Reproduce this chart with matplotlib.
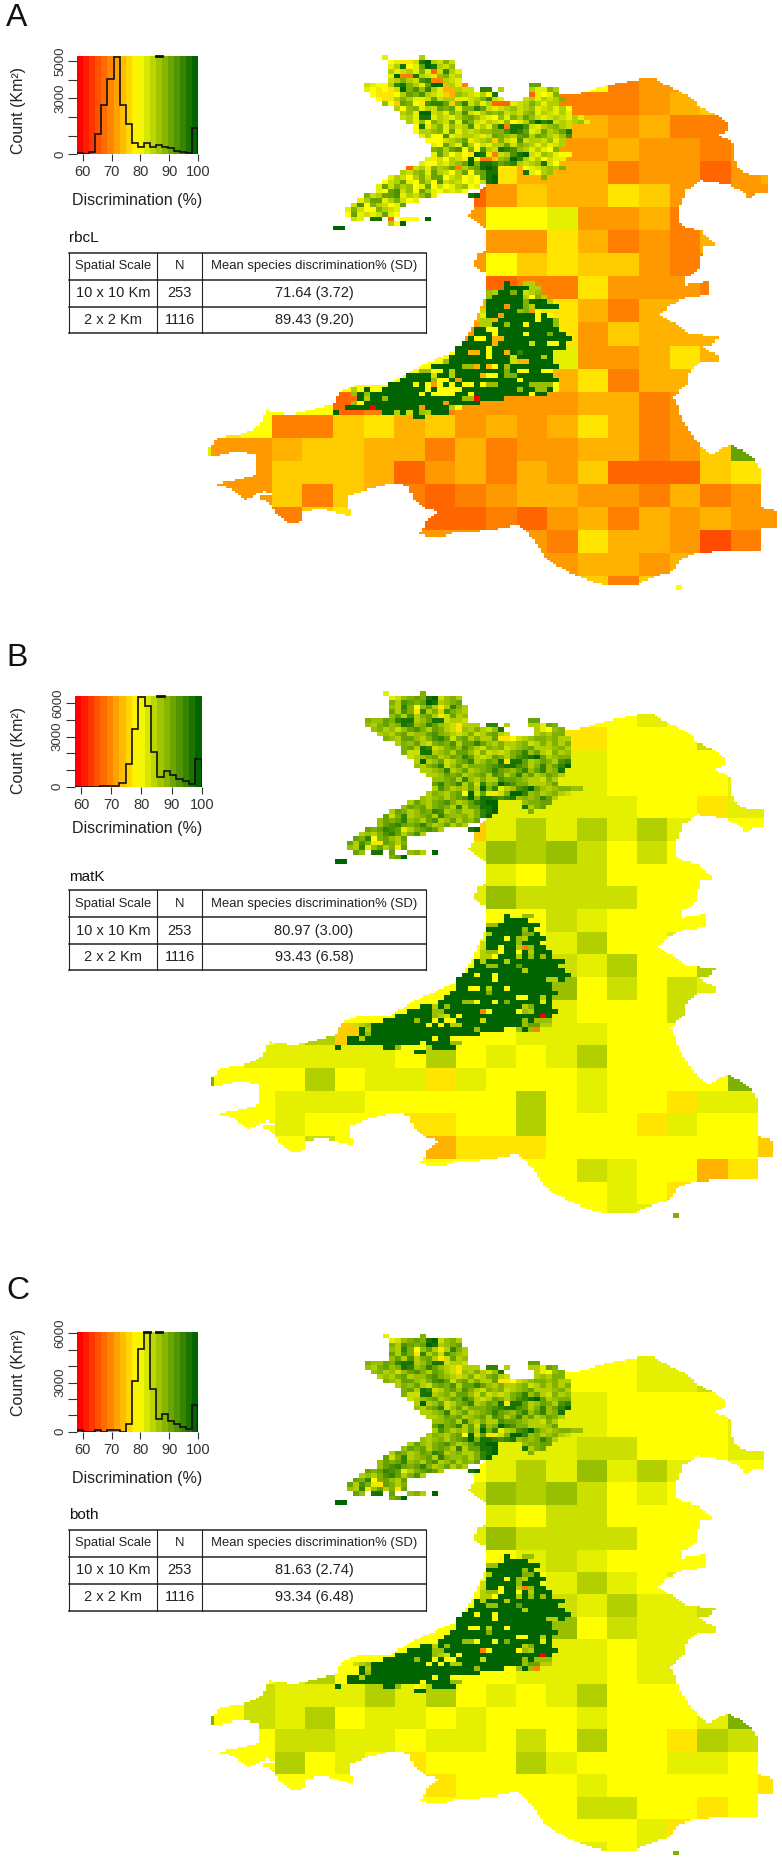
import numpy as np
from matplotlib import pyplot as plt
from matplotlib.colors import LinearSegmentedColormap
from matplotlib.path import Path

plt.rcParams["font.family"] = ["Liberation Sans", "DejaVu Sans"]

W, H = 782, 1859

# histogram counts, 20 bins from 58 to 100 (read against the y ticks)
hist_a = [90, 0, 140, 1070, 2640, 4020, 5200, 2640, 1620, 590,
          410, 625, 410, 480, 375, 320, 200, 125, 50, 1390]
hist_b = [10, 10, 10, 10, 60, 20, 60, 240, 1360, 3460,
          5400, 4840, 2100, 600, 960, 700, 440, 340, 140, 1640]
hist_c = [100, 0, 0, 100, 0, 100, 100, 0, 500, 3100,
          5020, 6100, 2620, 770, 1050, 670, 470, 300, 140, 1630]

x_ticks = [60, 70, 80, 90, 100]
x_tick_labels = ["60", "70", "80", "90", "100"]
y_ticks_a = [0, 1000, 2000, 3000, 4000, 5000]
y_labels_a = ["0", "", "", "3000", "", "5000"]
y_ticks_b = [0, 1000, 2000, 3000, 4000, 5000]
y_labels_b = ["0", "", "", "3000", "", "6000"]
y_ticks_c = [0, 1000, 2000, 3000, 4000, 5000, 6000]
y_labels_c = ["0", "", "", "3000", "", "", "6000"]

table_head = ["Spatial Scale", "N", "Mean species discrimination% (SD)"]
scales = ["10 x 10 Km", "2 x 2 Km"]
cell_counts = ["253", "1116"]
means_a = ["71.64 (3.72)", "89.43 (9.20)"]
means_b = ["80.97 (3.00)", "93.43 (6.58)"]
means_c = ["81.63 (2.74)", "93.34 (6.48)"]

coast_u = [935, 975, 1020, 1075, 1130, 1186, 1225, 1268, 1320, 1350, 1390, 1420, 1420, 1395, 1440,
           1435, 1450, 1480, 1528, 1528, 1500, 1480, 1460, 1420, 1350, 1310, 1290, 1285, 1310, 1350,
           1375, 1395, 1360, 1350, 1350, 1310, 1300, 1340, 1370, 1370, 1300, 1265, 1240, 1270, 1320,
           1395, 1390, 1355, 1395, 1395, 1350, 1320, 1310, 1290, 1275, 1290, 1310, 1350, 1380, 1430,
           1495, 1510, 1510, 1515, 1552, 1552, 1510, 1510, 1430, 1350, 1300, 1270, 1230, 1180, 1110,
           1060, 1000, 940, 910, 880, 855, 770, 690, 640, 590, 610, 640, 600, 570, 565,
           520, 440, 400, 405, 330, 280, 270, 240, 200, 190, 150, 205, 170, 120, 90,
           42, 90, 150, 155, 100, 40, 22, 22, 50, 110, 150, 180, 250, 320, 360,
           375, 430, 510, 590, 690, 735, 770, 770, 770, 745, 735, 750, 770, 770, 745,
           722, 740, 735, 770, 770, 935]
coast_v = [175, 150, 153, 135, 122, 110, 110, 133, 160, 190, 210, 235, 255, 268, 290,
           320, 360, 378, 380, 430, 430, 450, 425, 405, 395, 420, 470, 510, 525, 535,
           560, 575, 580, 610, 640, 665, 690, 680, 678, 715, 725, 745, 770, 790, 825,
           830, 850, 860, 885, 900, 905, 925, 965, 985, 1000, 1040, 1085, 1140, 1160, 1130,
           1175, 1200, 1240, 1310, 1320, 1365, 1368, 1430, 1432, 1435, 1450, 1490, 1500, 1525, 1530,
           1520, 1495, 1460, 1420, 1375, 1360, 1375, 1380, 1395, 1385, 1345, 1320, 1310, 1285, 1250,
           1240, 1262, 1280, 1335, 1315, 1320, 1350, 1352, 1325, 1300, 1280, 1275, 1265, 1290, 1260,
           1245, 1235, 1220, 1165, 1150, 1168, 1168, 1140, 1115, 1105, 1090, 1040, 1050, 1030, 1020,
           985, 965, 965, 915, 870, 800, 720, 690, 655, 640, 625, 600, 590, 530, 510,
           490, 470, 445, 405, 340, 340]

# letters a..u are the 21 colour levels: a red, k yellow, u dark green
coarse_a = ["....................", "..............fggg..", "............fffghiii", "............hhghffff",
            "............gghggfgg", "..........jhhhfggegh", ".........egihhjigggg", ".........gkklgghffff",
            ".........gggjhfgfhhh", ".........gkijiigffff", ".........geffjgggfgg", ".........hffjhfhhkkk",
            ".........gffjgihhhhh", ".........hfflgghjhhh", ".........iffhjfhhhhh", "...kkefffgggghhfgggg",
            ".jkffijhighghjhfgggg", "lgghiihhfhfgghhfgiqi", "gggiiihegh" + "fhgieeeijj", "gggifihfef" + "ghhggfhfgg",
            "...fijjfee" + "feghfhghgg", ".......ggg" + "ggfjhhgdff", "..........g" + "gghhghhhh", "............jifii..."]
coarse_b = ["....................", "..............klkk..", "............jjkkkmkk", "............llkkkkkk",
            "............llkkkkll", "..........lllllkkjll", ".........ilnlnlnlkkk", ".........lonomkmkkkk",
            ".........llkmmkkkkkk", ".........lommmmkkkkk", ".........kkkmlkkkkkk", ".........kkklnkklkkk",
            ".........kkkmlnkknkk", ".........kkkokmkmlkk", ".........kkklkkkmlkk", "...lnilkkk" + "klllkkkkkk",
            ".klllllknk" + "lklnkkkkkk", "pkkknklljl" + "kkklkkkkpk", "kkklllkkkk" + "knklkkjlll", "kkklkkkjjk" + "knkkkjlkkk",
            "...kmkkkhj" + "jjkkkkkkki", ".......kkk" + "kkkmlkkhjj", ".........." + "kkkklkjkkk", "............kkllk..."]
coarse_c = ["....................", "..............klll..", "............kkkllmkk", "............llkkkkkk",
            "............llkkkkll", "..........lllmmkkkll", ".........klnlolnlkkk", ".........lonomklkkkk",
            ".........llkmmkkkkkk", ".........lommmmkkkkk", ".........kklmlkkkkkk", ".........kkklnlklkkk",
            ".........kkkmlnllmkk", ".........kkkokmlllkk", ".........kkkllklllkk", "...lnklkkk" + "klllkllkkk",
            ".kmlllnlnk" + "lklnkkkkkk", "pkmlnkllkl" + "kkklkkklpk", "kkkmmllkll" + "kmknkkjnml", "kkknklkjkk" + "knlkkkllkk",
            "...kkkkkjk" + "kkklkkkkkj", ".......kkk" + "kkkmmkkjkk", ".........." + "kkkkkljkkk", "............klklk..."]

# 2 km cells of the north block, first row 1, first column 26
north_a = ["", "       l     n", "        kljjmtunmpm", "        lntklqutnmo", "        nlmnlplemsnl",
           "        lufftnmlopmn", "        mnpnmrsffnml", "    mlkknstpnlquuhnlf          qq",
           "    lklkjmuprosnlhhnmm ss n    nllpn", "     kjjjknqprnmlihonmlnkt     elklp",
           "      kjlnpnllmqmnnllmnpsml   mnlnmnp", "       okiqpkjrssqipsmolneeelmnpnlnn",
           "         nkoplnmqpqlppsqmlmnomnolmnlnk", "          noluumnlpnrmlnpopmnmoplnmlnl",
           "          mnlttlnmlnpqomlkolpnqomlmnmlnl", "           nlokpnmqlrpmlnmloklnrustmnmnol",
           "            ktlnplomnrlnlptfttrmlnopnm", "            knnoplqlnmnoopprtsqlmqnoqt",
           "             lnkkrlmnnmlmqponqrnqpnmor", "              kkkmnoqlmnoipmlrmnnmoln",
           "               lkqnlrnkmlnnqmponlnlmn", "               pqnqrkpkrnmtsronlnlkp",
           "               lqnkmkjutlfmnrtumlonlkk", "              ljmknmjukffiopusnlnkmll",
           "             lkkmlnoqupttsqrsnmnotmk", "           emnlpnoqfnpqtut    klmnonp",
           "          nmoplqnmknqkpqtt    tlkno", "        lnmknpmqqkmnklkqtu       p",
           "       kmnqlkpnkrmnmklkmtu", "      lqmpnoklqkmklnokl", "      lkqrmokqnlkmlmk",
           "    pmnqqrlnmoql     tu", "   lnqqlnpmkl", "  mrkpnmklq", " lpmkkpnml", " kqlmlmqlk",
           "  ml tt e kkk u", "        nku", "u"]
north_bc = ["", "       l     p", "        lmopqptumopn", "        pnrqpqutnopq", "        onspkoqnjnspn",
            "        qnrpjsnpmrpon", "        oqnrnpqnjmqno", "    pooqpsttnoqttmnnm          qq",
            "    onpqoptsopsqonmjnnn ss n   nnlqp", "     opnomoqrpnqpnmjonpnmot     nlkop",
            "      nonpqnooqrponmnpmnpqnm    nonpp", "       ponqqonprsqmpqnpnnqjjkmnoppopnn",
            "         npoqnmpqprnqqsqonpnnopmnpnpnp", "          pqntsmnpqorpnmpopmnopqnnnopn",
            "          pmmttnopnqqompmnmnpqsoqnmpno", "           mnopqnoqpsqnmnqpnprstuqnopp",
            "            nunoqmnpqsnoqptjttqnoqpnrs", "            onpqsmoqnpppqrsttrqnpsoqsu",
            "             nnopsnoqnopqsqpoqsoqsopt", "              nnoqpqnopqnrqnpsoqnoqpn",
            "               oopqnsonpnnrqqponnmpn", "               qspqsnqmsopusrppnnnoq",
            "               nrpnonqnupslnorsuqonoppoo", "              nponpqkumqljmpuusopnopnm",
            "             onopnpqrupttsrstopopsqn", "           nqonpqrpnoqstuu    oppqq",
            "          oqpqnpqpnsnqqttu    tnpq", "        nqpnoqpsrnopnnpstu     p",
            "       qmpsnopqnspoopnpsu", "      oqpqsopnqrnoqnpoq", "      oqrsqpqspnoqnpn",
            "    qpqsrqlnpqrqn    tu", "   nonprsqnprn", "  qpskpqonq", " qnrpljqpnp", " onsloqnpjq",
            "  qo tt q  opn u", "        pqu", "u"]

# 2 km cells of the mid-west block, first row 51, first column 25: (skip, cells)
mid_a = [(28, "u  nn"), (28, "uuuunn"), (25, "onuupumno"), (25, "ouuuuunkpn"), (25, "uuuuuupuuun"),
         (25, "uuuguupnuuuu"), (24, "muuuuuopgkl"), (24, "luuguuuuukuk"), (24, "nnhuuuuuukuuo"),
         (24, "nnuuouukuuuuo"), (23, "uukkuuuuuuuuuu"), (23, "uuukuuuukuuupuu"), (22, "ukkuhhuuuuuuuuuuu"),
         (21, "uuuuuhuuuuumuukku"), (20, "uuuuukuuuuuuuuuuuu"), (20, "uuhhukuuhusuuuuu"),
         (19, "uuuuuukuuumuuuunu"), (18, "ouuuuuuuuuumhhuuuu"), (16, "uuuuuoohuhkuouuuuuuuu"),
         (14, "ookkunuuuuuuuupukkuukk"), (12, "uuuumuunuuuuhkkuppuuuuuu"), (11, "uuuuuokkuguuuuuuuuukuuuuuu"),
         (9, "uuuukukgkukukkukoouuuuuooook"), (3, "nkukkuuuuuuukukkkkuuuuuuuuuouuoouk"),
         (3, "ououuuuuuuukukkkkuukuuuuuuuuukuu"), (4, "unuuouuuuuuuuuuuuooauuuu"),
         (3, "okuuuuuuuuuuuuuguuuuu"), (2, "uuuuauuuuuuuguuuunk"), (0, "u       uunumuonuuu"), (13, "uu")]
mid_bc = [(28, "u  oo"), (28, "uuuu"), (25, "oouuuuuuu"), (25, "uuuuuuou"), (25, "nuuuuuppu"),
          (25, "uuukuonuuu"), (24, "muuuuuouuu"), (24, "muukuunfouu"), (24, "nookuukunuuu"),
          (24, "nnkuuunuouou"), (23, "unuuunuuuuuuuuu"), (23, "uuoouuuquuuuuu"), (22, "uuuuuuuuunuuuuuu"),
          (21, "uukuukuuuuuuuuuuuu"), (20, "uuuuuukuuuuuuuunnu"), (20, "uuuuuuuuuuuuuuuu"),
          (20, "uukkunuukuuuuuuu"), (19, "uuuuuupuuuuuuuuuuu"), (18, "uuuuuuuuuuuukkuunu"),
          (17, "uuuuookuukupuuuuulu"), (14, "uunuouuuuuuuuuuuunpuuu"), (12, "uuuuoouuuuuufkuuuukonuuuu"),
          (10, "uuuuuuonmukuuuuuuuuuuuuuau"), (8, "uuuuuouukukkuuuumuuuuuuouooo"),
          (3, "mnouuuuuuuuukukunnuuuuuuuuuuoqqnn"), (4, "unuuuuuuuuuuuuuuuuuouuuu  ouof"),
          (4, "uouuuuuuuuuuuuuuuuuu"), (2, "uunuuuuuuuuuuukuu"), (2, "uuuuuuuuuuuukuuuuoo"),
          (0, "u       uuo  k  uuuu"), (13, "uu")]

# single cells away from the blocks: (row, column, level)
specks_a = [(117, 81, "k"), (39, 25, "u")]
specks_bc = [(117, 81, "p"), (39, 25, "u")]

ramp = LinearSegmentedColormap.from_list("disc", ["red", "yellow", "darkgreen"], N=21)
stripes = LinearSegmentedColormap.from_list("stripes", ["red", "yellow", "darkgreen"], N=20)


def level(ch):
    return ord(ch) - ord("a")


def px_axes(fig, x, y, w, h):
    return fig.add_axes([x / W, 1 - (y + h) / H, w / W, h / H])


def build_grid(coarse, north, mid, specks):
    # map held at 1 km, so the 10 km coast can be stepped as in the original
    levels = np.array([[level("k") if c == "." else level(c) for c in row] for row in coarse], float)
    levels = np.kron(levels, np.ones((10, 10)))
    cols, rows = np.meshgrid(np.arange(200) + 0.5, np.arange(240) + 0.5)
    coast = Path(np.column_stack([6.6 + np.array(coast_u) / 8.244, -2.78 + np.array(coast_v) / 6.451]))
    inside = coast.contains_points(np.column_stack([cols.ravel(), rows.ravel()])).reshape(rows.shape)
    grid = np.where(inside, levels, np.nan)
    for i, row in enumerate(north):
        for j, ch in enumerate(row):
            if ch != " ":
                grid[2 * (i + 1):2 * (i + 1) + 2, 2 * (j + 26):2 * (j + 26) + 2] = level(ch)
    for i, (skip, row) in enumerate(mid):
        for j, ch in enumerate(row):
            if ch != " ":
                grid[2 * (i + 51):2 * (i + 51) + 2, 2 * (j + skip + 25):2 * (j + skip + 25) + 2] = level(ch)
    for r, c, ch in specks:
        grid[2 * r:2 * r + 2, 2 * c:2 * c + 2] = level(ch)
    return grid


def draw_map(fig, grid, box):
    ax = px_axes(fig, *box)
    ax.imshow(grid, cmap=ramp, vmin=-0.5, vmax=20.5, extent=(0, 200, 240, 0),
              aspect="auto", interpolation="nearest")
    ax.axis("off")


def draw_hist(fig, counts, box, x_left, y_top, y_ticks, y_labels, top_bins):
    ax = px_axes(fig, *box)
    edges = np.linspace(x_left, 100, 21)
    ax.pcolormesh(edges, [0, y_top], [np.arange(20)], cmap=stripes, vmin=0, vmax=19)
    ax.stairs(counts, edges, color="#111111", lw=1.2)
    for b in top_bins:
        ax.plot([edges[b], edges[b + 1]], [y_top, y_top], color="#111111", lw=2, clip_on=False)
    ax.set_xlim(x_left, 100)
    ax.set_ylim(0, y_top)
    for s in ax.spines.values():
        s.set_visible(False)
    ax.set_xticks(x_ticks, x_tick_labels)
    ax.set_yticks(y_ticks, y_labels)
    ax.tick_params(axis="x", length=5, width=0.8, color="#333333", labelcolor="#333333", labelsize=10.5, pad=3)
    ax.tick_params(axis="y", length=6.5, width=0.8, color="#333333", labelcolor="#333333", labelsize=9.5, pad=1.5)
    for t in ax.get_yticklabels():
        t.set_rotation(90)
        t.set_va("center")


def draw_table(ov, label, label_y, lines_y, means):
    ov.text(69, label_y, label, fontsize=11, color="#111111", va="center", ha="left")
    for y in lines_y:
        ov.plot([69, 426], [y, y], color="#222222", lw=1.1)
    for x in [69, 156.7, 202.3, 425.7]:
        ov.plot([x, x], [lines_y[0], lines_y[-1]], color="#222222", lw=0.8)
    rows = [table_head, [scales[0], cell_counts[0], means[0]], [scales[1], cell_counts[1], means[1]]]
    for i, row in enumerate(rows):
        y = (lines_y[i] + lines_y[i + 1]) / 2
        size = 9.4 if i == 0 else 10.5
        for x, s in zip([113, 179.5, 314], row):
            ov.text(x, y, s, fontsize=size, color="#222222", ha="center", va="center")


fig = plt.figure(figsize=(W / 100, H / 100), dpi=100)

draw_map(fig, build_grid(coarse_a, north_a, mid_a, specks_a), (179.8, 46.4, 612, 553))
draw_map(fig, build_grid(coarse_b, north_bc, mid_bc, specks_bc), (183.8, 682.5, 604, 544.3))
draw_map(fig, build_grid(coarse_c, north_bc, mid_bc, specks_bc), (183.8, 1325.4, 604, 539))

draw_hist(fig, hist_a, (77.3, 56, 120.7, 98.3), 58.1, 5270, y_ticks_a, y_labels_a, [13])
draw_hist(fig, hist_b, (75, 695.7, 126.7, 91), 58, 5460, y_ticks_b, y_labels_b, [13])
draw_hist(fig, hist_c, (77.3, 1331.7, 120.7, 100), 58.1, 6100, y_ticks_c, y_labels_c, [11, 13])

ov = fig.add_axes([0, 0, 1, 1])
ov.set_xlim(0, W)
ov.set_ylim(H, 0)
ov.axis("off")
ov.patch.set_alpha(0)

for letter, y in zip("ABC", [18, 658, 1291]):
    ov.text(6, y, letter, fontsize=23, color="#111111", ha="left", va="center")
for y_label, x_label in zip([110, 750, 1373], [200, 828, 1478]):
    ov.text(19, y_label, "Count (Km²)", fontsize=11.5, color="#222222", rotation=90, ha="center", va="center")
    ov.text(137, x_label, "Discrimination (%)", fontsize=11.5, color="#222222", ha="center", va="center")

draw_table(ov, "rbcL", 238, [252.7, 280, 306.7, 332.7], means_a)
draw_table(ov, "matK", 876.7, [889.8, 917.4, 944.2, 970], means_b)
draw_table(ov, "both", 1515, [1529.8, 1556.6, 1583.7, 1610.5], means_c)

fig.savefig("out.png", dpi=100)
